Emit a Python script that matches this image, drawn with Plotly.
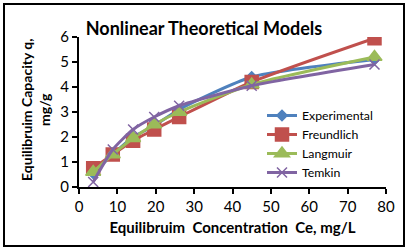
import plotly.graph_objects as go

ce = [3.7, 8.8, 14.1, 19.6, 26.1, 45.0, 77.0]
experimental = [0.55, 1.3, 2.0, 2.45, 3.1, 4.4, 5.1]
freundlich = [0.75, 1.3, 1.85, 2.3, 2.8, 4.2, 5.95]
langmuir = [0.6, 1.3, 1.95, 2.5, 3.0, 4.1, 5.2]
temkin = [0.2, 1.5, 2.3, 2.8, 3.25, 4.05, 4.9]

series = [
    ("Experimental", experimental, "#4F81BD", "diamond", 8),
    ("Freundlich", freundlich, "#C0504D", "square", 13),
    ("Langmuir", langmuir, "#9BBB59", "triangle-up", 13),
    ("Temkin", temkin, "#8064A2", "x-thin", 10),
]

fig = go.Figure()
for name, ys, color, sym, size in series:
    fig.add_trace(go.Scatter(
        x=ce, y=ys, name=name, mode="lines+markers",
        line=dict(color=color, width=3, shape="spline", smoothing=0.6),
        marker=dict(symbol=sym, size=size, color=color,
                    line=dict(color=color, width=1.5)),
    ))

L, R, T, B = 79, 23, 37, 62
W, H = 409, 249
pw, ph = W - L - R, H - T - B

font = "Lato, Open Sans, sans-serif"
fig.update_layout(
    width=W, height=H,
    margin=dict(l=L, r=R, t=T, b=B, autoexpand=False),
    paper_bgcolor="white", plot_bgcolor="white",
    font=dict(family=font, color="black", size=13),
    title=dict(text="<b>Nonlinear Theoretical Models</b>", x=204 / W, xref="container",
               xanchor="center", y=1 - 29 / H, yanchor="middle",
               font=dict(size=18, family=font)),
    showlegend=True,
    legend=dict(x=(262 - L) / pw, y=(187 - 101) / ph, xanchor="left", yanchor="top",
                bgcolor="rgba(0,0,0,0)", font=dict(size=12.3),
                itemwidth=30, tracegroupgap=0),
    xaxis=dict(range=[0, 80], dtick=10, showgrid=False, zeroline=False,
               showline=True, linecolor="black", linewidth=2, automargin=False,
               ticks="outside", ticklen=5, tickwidth=2, tickcolor="black",
               tickfont=dict(size=15),
               title=dict(text="<b>Equilibruim  Concentration  Ce, mg/L</b>",
                          font=dict(size=15), standoff=8)),
    yaxis=dict(range=[0, 6], dtick=1, showgrid=False, zeroline=False,
               showline=True, linecolor="black", linewidth=2, automargin=False,
               ticks="outside", ticklen=5, tickwidth=2, tickcolor="black",
               tickfont=dict(size=15)),
)

fig.add_annotation(text="<b>Equilibruim Capacity q,<br>mg/g</b>", textangle=-90,
                   xref="paper", yref="paper", x=(35 - L) / pw, y=(187 - 110) / ph,
                   xanchor="center", yanchor="middle", showarrow=False,
                   font=dict(size=14, family=font, color="black"))

fig.add_shape(type="rect", xref="paper", yref="paper",
              x0=(4 - L) / pw, x1=(404 - L) / pw,
              y0=(187 - 246) / ph, y1=(187 - 4) / ph,
              line=dict(color="black", width=2), layer="above")

fig.write_html("out.html", config={"displayModeBar": False},
               post_script="document.body.style.margin='0px';")
